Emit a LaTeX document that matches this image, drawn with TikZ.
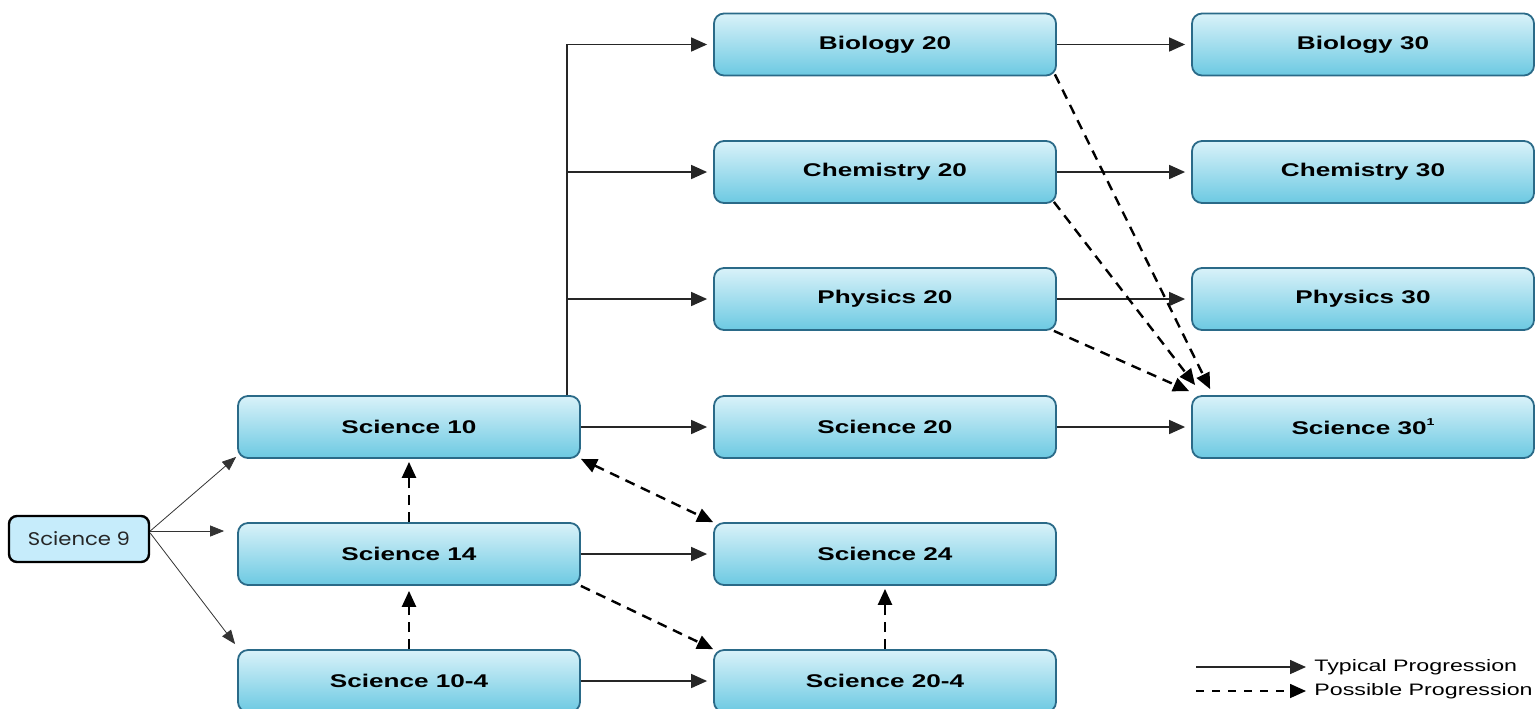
\documentclass[tikz,border=0pt]{standalone}
\usepackage{fontspec}
\setmainfont{Liberation Sans}
\newfontfamily\boxfont[FakeStretch=1.42]{Liberation Sans}
\newfontfamily\legfont[FakeStretch=1.4]{Liberation Sans}
\newfontfamily\ninefont[FakeStretch=1.15]{Poppins}
\usetikzlibrary{arrows.meta,calc}
\definecolor{boxtop}{HTML}{D9F2F9}
\definecolor{boxbot}{HTML}{6CC9E2}
\definecolor{boxline}{HTML}{2A6A88}
\definecolor{ninefill}{HTML}{C6ECFB}
\newcommand{\supone}{\raisebox{0.9ex}{\fontsize{5}{5}\selectfont 1}}
\tikzset{
  course/.style={rectangle, rounded corners=5pt, draw=boxline, line width=0.9pt,
    top color=boxtop, bottom color=boxbot, minimum width=171pt, minimum height=31pt,
    inner sep=0pt, font=\boxfont\bfseries\fontsize{9.2}{10}\selectfont},
  ninebox/.style={rectangle, rounded corners=4pt, draw=black, line width=1.2pt,
    fill=ninefill, minimum width=70pt, minimum height=23pt, inner sep=0pt,
    font=\ninefont\fontsize{9.2}{10}\selectfont, text=black!85},
  typarrow/.style={draw=black!85, line width=0.8pt, -{Triangle[length=8pt,width=7pt]}},
  posarrow/.style={draw=black, line width=1.2pt, dash pattern=on 5pt off 3.5pt,
    -{Triangle[length=8pt,width=7pt]}},
  thinarrow/.style={draw=black!80, line width=0.4pt, -{Triangle[length=7pt,width=5.5pt]}},
  legtext/.style={font=\legfont\fontsize{8.3}{9}\selectfont, anchor=west, inner sep=0pt}
}
\begin{document}
\begin{tikzpicture}[x=0.5pt,y=-0.5pt]
\useasboundingbox (0,0) rectangle (1535,708);
% nodes
\node[ninebox] (s9) at (79,539) {Science 9};
\node[course] (s10) at (409,427) {Science 10};
\node[course] (s14) at (409,554) {Science 14};
\node[course] (s104) at (409,681) {Science 10-4};
\node[course] (b20) at (885,44.5) {Biology 20};
\node[course] (c20) at (885,172) {Chemistry 20};
\node[course] (p20) at (885,299) {Physics 20};
\node[course] (s20) at (885,427) {Science 20};
\node[course] (s24) at (885,554) {Science 24};
\node[course] (s204) at (885,681) {Science 20-4};
\node[course] (b30) at (1363,44.5) {Biology 30};
\node[course] (c30) at (1363,172) {Chemistry 30};
\node[course] (p30) at (1363,299) {Physics 30};
\node[course] (s30) at (1363,427) {Science 30\supone};
% Science 9 arrows
\draw[thinarrow] ($(s9.east)+(0,-8)$) -- ($(s10.south west)+(-1,-2)$);
\draw[thinarrow] ($(s9.east)+(0,-8)$) -- ($(s9.east -| s14.west)+(-13,-8)$);
\draw[thinarrow] ($(s9.east)+(0,-6)$) -- ($(s104.north west)+(-2,-5)$);
% typical progression
\coordinate (br) at ($(s10.north east)+(-14,0)$);
\draw[typarrow, shorten >=3pt] (br) |- (b20.west);
\draw[typarrow, shorten >=3pt] (br |- c20.west) -- (c20.west);
\draw[typarrow, shorten >=3pt] (br |- p20.west) -- (p20.west);
\draw[typarrow, shorten >=3pt] (s10.east) -- (s20.west);
\draw[typarrow, shorten >=3pt] (b20.east) -- (b30.west);
\draw[typarrow, shorten >=3pt] (c20.east) -- (c30.west);
\draw[typarrow, shorten >=3pt] (p20.east) -- (p30.west);
\draw[typarrow, shorten >=3pt] (s20.east) -- (s30.west);
\draw[typarrow, shorten >=3pt] (s14.east) -- (s24.west);
\draw[typarrow, shorten >=3pt] (s104.east) -- (s204.west);
% possible progression
\draw[posarrow] ($(b20.south east)+(-2,-2)$) -- ($(s30.north west)+(19,-6)$);
\draw[posarrow] ($(c20.south east)+(-3,-2)$) -- ($(s30.north west)+(4,-10)$);
\draw[posarrow] ($(p20.south east)+(-3,0)$) -- ($(s30.north west)+(-2,-4)$);
\draw[posarrow, {Triangle[length=8pt,width=7pt]}-{Triangle[length=8pt,width=7pt]}] (s10.south east) -- (s24.north west);
\draw[posarrow] (s14.south east) -- (s204.north west);
\draw[posarrow] (s104.north) -- ($(s14.south)+(0,5)$);
\draw[posarrow] (s14.north) -- ($(s10.south)+(0,3)$);
\draw[posarrow] (s204.north) -- ($(s24.south)+(0,3)$);
% legend
\node[legtext] (lt) at (1314,667) {Typical Progression};
\node[legtext] (lp) at (1314,691) {Possible Progression};
\coordinate (la) at (1196,667);
\coordinate (lb) at (1196,691);
\draw[typarrow, shorten >=4pt] (la) -- (lt.west);
\draw[posarrow, line width=0.8pt, dash pattern=on 4pt off 4pt, shorten >=4pt] (lb) -- (lp.west);
\end{tikzpicture}
\end{document}
